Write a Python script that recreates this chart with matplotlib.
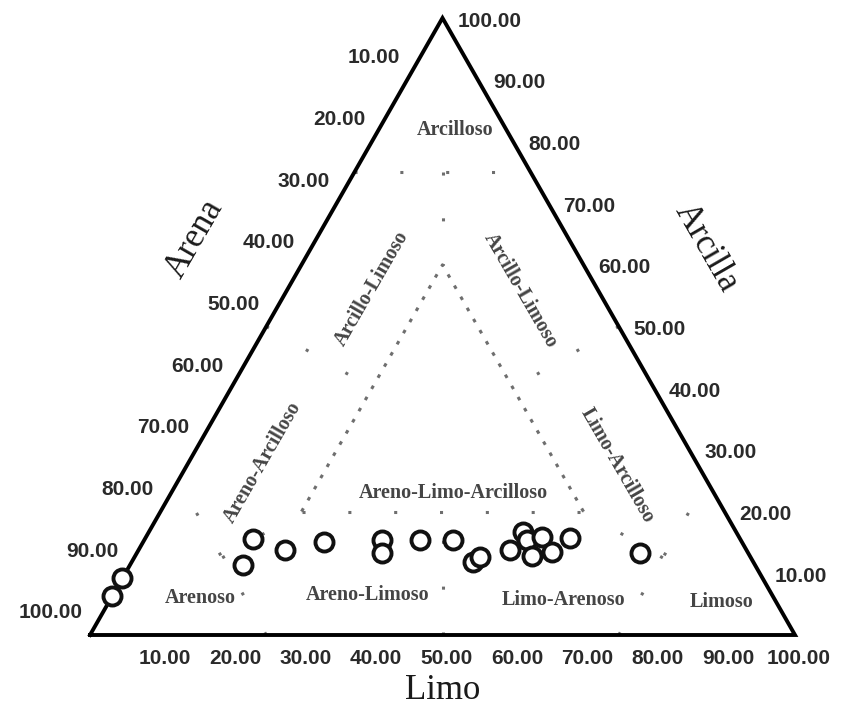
import numpy as np
import matplotlib
matplotlib.use('Agg')
import matplotlib.pyplot as plt

# samples (percent): Arena / Limo / Arcilla
arena   = [90.8, 93.7, 69.1, 72.6, 65.4, 59.3, 50.9, 51.9, 45.5, 40.8,
           39.8, 38.4, 33.5, 30.2, 30.3, 28.0, 30.9, 27.7, 24.1, 15.3]
limo    = [0.0, 0.0, 15.3, 16.0, 20.8, 25.7, 33.7, 34.8, 39.1, 43.8,
           48.4, 49.0, 52.7, 53.1, 54.3, 56.2, 56.3, 58.8, 60.2, 71.4]
arcilla = [9.2, 6.3, 15.6, 11.4, 13.8, 15.0, 15.4, 13.3, 15.4, 15.4,
           11.8, 12.6, 13.8, 16.7, 15.4, 15.9, 12.8, 13.5, 15.7, 13.3]

tick_vals = [10, 20, 30, 40, 50, 60, 70, 80, 90, 100]

# class boundaries (Arena, Limo, Arcilla)
central_sides = [(20, 60, 20), (20, 20, 60), (60, 20, 20)]
boundaries = [
    [(60, 20, 20), (20, 60, 20)],
    [(25, 0, 75), (0, 25, 75)],
    [(12.5, 12.5, 75), (20, 20, 60)],
    [(75, 12.5, 12.5), (60, 20, 20)],
    [(12.5, 75, 12.5), (20, 60, 20)],
    [(75, 25, 0), (75, 0, 25)],
    [(25, 75, 0), (0, 75, 25)],
    [(50, 0, 50), (40, 20, 40)],
    [(0, 50, 50), (20, 40, 40)],
    [(50, 50, 0), (40, 40, 20)],
]

class_names = ['Arcilloso', 'Arcillo-Limoso', 'Arcillo-Limoso', 'Areno-Arcilloso',
               'Limo-Arcilloso', 'Areno-Limo-Arcilloso', 'Arenoso', 'Areno-Limoso',
               'Limo-Arenoso', 'Limoso']
class_pos = [(0.518, 0.818), (0.400, 0.562), (0.611, 0.559), (0.245, 0.280),
             (0.748, 0.274), (0.515, 0.230), (0.156, 0.060), (0.394, 0.065),
             (0.671, 0.057), (0.896, 0.053)]
class_rot = [0, 60, -60, 60, -60, 0, 0, 0, 0, 0]


def to_xy(a, l, c):
    a = np.asarray(a, float); l = np.asarray(l, float); c = np.asarray(c, float)
    s = a + l + c
    return l / s + 0.5 * c / s, c / s


fig = plt.figure(figsize=(8.44, 7.12), dpi=100)
ax = fig.add_axes([0, 0, 1, 1])
ax.set_xlim(-90 / 705, 754 / 705)
ax.set_ylim(-77 / 617, 635 / 617)
ax.axis('off')

dot_col = '#6e6e6e'
pts = np.array([to_xy(*p) for p in central_sides])
ax.plot(pts[:, 0], pts[:, 1], color=dot_col, lw=2.2, ls=(0, (1.2, 3)), zorder=1)
for seg in boundaries:
    pts = np.array([to_xy(*p) for p in seg])
    ax.plot(pts[:, 0], pts[:, 1], color=dot_col, lw=2.2, ls=(0, (1, 14)), zorder=1)

# outer triangle
ax.plot([0, 1, 0.5, 0], [0, 0, 1, 0], color='black', lw=2.8, zorder=3,
        solid_joinstyle='miter')

tick_kw = dict(fontsize=15, fontweight='bold', family='Liberation Sans',
               color='#2a2a2a', textcoords='offset pixels')
for v in tick_vals:
    f = v / 100
    # Limo (bottom)
    ax.annotate(f'{v:.2f}', (f, 0), xytext=(4, -24), ha='center', va='center', **tick_kw)
    # Arcilla (right)
    ax.annotate(f'{v:.2f}', (1 - f / 2, f), xytext=(15, -3), ha='left', va='center', **tick_kw)
    # Arena (left)
    ax.annotate(f'{v:.2f}', ((1 - f) / 2, 1 - f), xytext=(-7, 22), ha='right', va='center', **tick_kw)

title_kw = dict(fontsize=25, family='Liberation Serif', color='#1a1a1a', ha='center', va='center')
ax.text(0.148, 0.642, 'Arena', rotation=60, **title_kw)
ax.text(0.874, 0.627, 'Arcilla', rotation=-60, **title_kw)
ax.text(0.5, -0.09, 'Limo', **title_kw)

for name, (x, y), r in zip(class_names, class_pos, class_rot):
    ax.text(x, y, name, rotation=r, rotation_mode='anchor', ha='center', va='center',
            fontsize=14.5, family='Liberation Serif', fontweight='bold', color='#454545')

x, y = to_xy(arena, limo, arcilla)
ax.plot(x, y, 'o', ms=13, mfc='white', mec='#111111', mew=2.8, ls='none', zorder=4)

fig.savefig('out.png', dpi=100)
